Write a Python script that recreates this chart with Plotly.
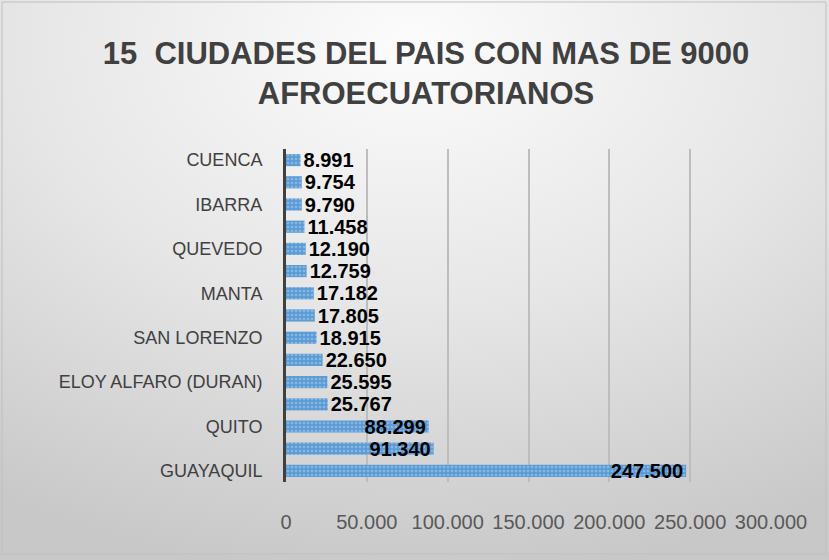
import base64
import plotly.graph_objects as go

# Data (bottom to top)
cities = ["GUAYAQUIL", "ESMERALDAS", "QUITO", "SANTO DOMINGO", "ELOY ALFARO (DURAN)",
          "MACHALA", "SAN LORENZO", "QUININDE", "MANTA", "MILAGRO",
          "QUEVEDO", "BABAHOYO", "IBARRA", "LA CONCORDIA", "CUENCA"]
population = [247500, 91340, 88299, 25767, 25595,
              22650, 18915, 17805, 17182, 12759,
              12190, 11458, 9790, 9754, 8991]
shown_labels = ["GUAYAQUIL", "QUITO", "ELOY ALFARO (DURAN)", "SAN LORENZO",
                "MANTA", "QUEVEDO", "IBARRA", "CUENCA"]
x_ticks = [0, 50000, 100000, 150000, 200000, 250000, 300000]

W, H = 829, 560
L, R, T, B = 286, 58, 149, 78

positions = ["inside" if v > 50000 else "outside" for v in population]

fig = go.Figure()
fig.add_trace(go.Bar(
    y=cities, x=population, orientation="h",
    marker=dict(color="#5B9BD5",
                pattern=dict(shape=".", fgcolor="#b4d2ee", size=4, solidity=0.35),
                line=dict(width=0)),
    text=population, texttemplate="%{x:,}",
    textposition=positions, insidetextanchor="end",
    textangle=0, constraintext="none", cliponaxis=False,
    textfont=dict(family="Liberation Sans", size=20, color="black", weight="bold"),
))

svg = f'''<svg xmlns="http://www.w3.org/2000/svg" width="{W}" height="{H}" preserveAspectRatio="none">
<defs><radialGradient id="g" cx="50%" cy="8%" r="95%" fx="50%" fy="8%">
<stop offset="0" stop-color="#fcfcfc"/><stop offset="0.5" stop-color="#e6e6e6"/>
<stop offset="1" stop-color="#c8c8c8"/></radialGradient></defs>
<rect width="{W}" height="{H}" fill="url(#g)"/></svg>'''
src = "data:image/svg+xml;base64," + base64.b64encode(svg.encode()).decode()

pw, ph = W - L - R, H - T - B
fig.add_layout_image(dict(source=src, xref="paper", yref="paper",
                          x=-L / pw, y=1 + T / ph, sizex=W / pw, sizey=H / ph,
                          xanchor="left", yanchor="top", sizing="stretch", layer="below"))

fig.update_layout(
    width=W, height=H,
    margin=dict(l=L, r=R, t=T, b=B),
    paper_bgcolor="white", plot_bgcolor="rgba(0,0,0,0)",
    separators=",.",
    bargap=0.45,
    showlegend=False,
    title=dict(text="15  CIUDADES DEL PAIS CON MAS DE 9000<br>AFROECUATORIANOS",
               x=426 / W, xanchor="center", y=1 - 64 / H, yanchor="top",
               font=dict(family="Liberation Sans", size=31, color="#404040", weight="bold")),
    xaxis=dict(range=[0, 300000], tickvals=x_ticks, tickformat=",",
               showgrid=True, gridcolor="#bdbdbd", gridwidth=2, zeroline=False,
               ticks="", ticklabelstandoff=26,
               tickfont=dict(family="Liberation Sans", size=20, color="#595959")),
    yaxis=dict(type="category", categoryorder="array", categoryarray=cities,
               tickvals=shown_labels, ticktext=shown_labels,
               showline=True, linecolor="#404040", linewidth=3, showgrid=False,
               ticks="", ticklabelstandoff=17,
               tickfont=dict(family="Liberation Sans", size=18, color="#404040")),
    shapes=[dict(type="rect", xref="paper", yref="paper",
                 x0=-(L - 2) / pw, x1=1 + (R - 3) / pw, y0=-(B - 6) / ph, y1=1 + (T - 2) / ph,
                 line=dict(color="#bfbfbf", width=1), layer="below")],
)

fig.write_html("out.html", post_script="document.body.style.margin='0';",
               config={"displayModeBar": False})
